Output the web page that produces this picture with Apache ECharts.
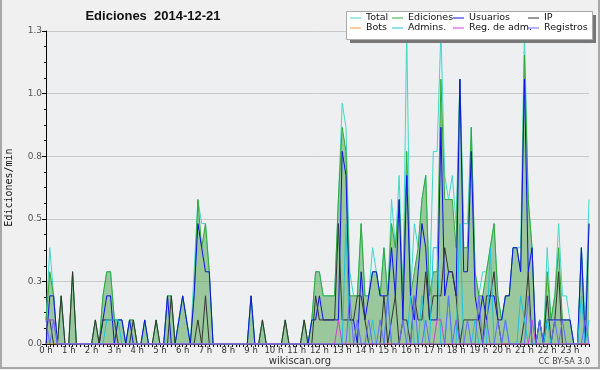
<!DOCTYPE html>
<html>
<head>
<meta charset="utf-8">
<script src="https://cdn.jsdelivr.net/npm/echarts@6/dist/echarts.min.js"></script>
<style>
  html, body { margin: 0; padding: 0; background: #f0f0f0; }
  #chart { width: 600px; height: 370px; }
</style>
</head>
<body>
<div id="chart"></div>
<script>
// etiquetas del eje x (una por hora, 6 tramos de 10 min por hora)
const hourLabels = ['0 h', '1 h', '2 h', '3 h', '4 h', '5 h', '6 h', '7 h', '8 h', '9 h', '10 h', '11 h',
  '12 h', '13 h', '14 h', '15 h', '16 h', '17 h', '18 h', '19 h', '20 h', '21 h', '22 h', '23 h']

// ediciones por minuto, tramos de 10 min (144 por día)
const total = [
  .1, .4, .2, 0, .2, 0, 0, .3, 0, 0, 0, 0,
  0, .1, 0, .2, .3, .3, .1, .1, .1, 0, .1, .1,
  0, 0, .1, 0, 0, .1, 0, 0, .2, .2, 0, .1,
  .2, .1, 0, .3, .6, .5, .5, .3, 0, 0, 0, 0,
  0, 0, 0, 0, 0, 0, .2, 0, 0, .1, 0, 0,
  0, 0, 0, .1, 0, 0, 0, 0, .1, 0, .1, .3,
  .3, .2, .2, .2, .2, .6, 1.0, .9, .3, .2, .2, .5,
  .2, .2, .4, .3, .2, .4, .2, .6, .4, .7, .2, 1.3,
  .2, .5, .4, .6, .7, .2, .8, .8, 1.3, .7, .6, .7,
  .5, 1.1, .5, .5, .9, .3, .2, .3, .3, .4, .5, .2,
  .1, .2, .2, .4, .4, .4, 1.3, .6, .4, 0, .1, 0,
  .4, .1, .2, .5, .2, .2, .1, 0, 0, .4, .1, .6
]
const ediciones = [
  .1, .3, .2, 0, .2, 0, 0, .3, 0, 0, 0, 0,
  0, .1, 0, .2, .3, .3, .1, .1, .1, 0, .1, .1,
  0, 0, .1, 0, 0, .1, 0, 0, .2, .2, 0, .1,
  .2, .1, 0, .2, .6, .4, .5, .3, 0, 0, 0, 0,
  0, 0, 0, 0, 0, 0, .2, 0, 0, .1, 0, 0,
  0, 0, 0, .1, 0, 0, 0, 0, .1, 0, .1, .3,
  .3, .2, .2, .2, .2, .6, .9, .8, .2, .2, .2, .5,
  .2, .2, .3, .3, .2, .4, .2, .5, .4, .6, .2, .8,
  .2, .3, .4, .6, .7, .2, .3, .3, 1.1, .6, .6, .6,
  .4, 1.1, .4, .4, .9, .3, .2, .2, .3, .4, .5, .2,
  .1, .2, .2, .4, .4, .3, 1.2, .6, .4, 0, .1, 0,
  .3, .1, .2, .4, .1, .1, .1, 0, 0, .4, 0, .5
]
const usuarios = [
  0, .2, .2, 0, 0, 0, 0, 0, 0, 0, 0, 0,
  0, 0, 0, .1, .2, .2, 0, .1, .1, 0, .1, 0,
  0, 0, .1, 0, 0, 0, 0, 0, .2, 0, 0, .1,
  .2, .1, 0, .2, .5, .4, .3, .3, 0, 0, 0, 0,
  0, 0, 0, 0, 0, 0, .2, 0, 0, 0, 0, 0,
  0, 0, 0, 0, 0, 0, 0, 0, 0, 0, .1, .1,
  .2, .1, .1, .1, .1, .1, .8, .7, .1, .1, 0, .3,
  .1, .2, .3, .3, .2, .2, .2, .4, .2, .6, .1, .7,
  .2, .1, .3, .5, .4, .1, .1, .1, .9, .2, .3, .3,
  .2, 1.1, .3, .3, .8, .2, .1, .2, .1, .2, .2, .1,
  .1, .2, .2, .4, .4, .3, 1.1, .3, .4, 0, .1, 0,
  .1, .1, .1, .1, .1, .1, .1, 0, 0, .4, 0, .5
]
const ip = [
  .1, .1, 0, 0, .2, 0, 0, .3, 0, 0, 0, 0,
  0, .1, 0, .1, .1, .1, .1, 0, 0, 0, 0, .1,
  0, 0, 0, 0, 0, .1, 0, 0, 0, .2, 0, 0,
  0, 0, 0, 0, .1, 0, .2, 0, 0, 0, 0, 0,
  0, 0, 0, 0, 0, 0, 0, 0, 0, .1, 0, 0,
  0, 0, 0, .1, 0, 0, 0, 0, .1, 0, 0, .2,
  .1, .1, .1, .1, .1, .5, .1, .1, .1, .1, .2, .2,
  .1, 0, 0, 0, 0, .2, 0, .1, .2, 0, .1, .1,
  0, .2, .1, .1, .3, .1, .2, .2, .2, .4, .3, .3,
  .2, 0, .1, .1, .1, .1, .1, 0, .2, .2, .3, .1,
  0, 0, 0, 0, 0, 0, .1, .3, 0, 0, 0, 0,
  .2, 0, .1, .3, 0, 0, 0, 0, 0, 0, 0, 0
]
// sin ediciones de bots ese día
const bots = [
  0, 0, 0, 0, 0, 0, 0, 0, 0, 0, 0, 0, 0, 0, 0, 0, 0, 0, 0, 0, 0, 0, 0, 0,
  0, 0, 0, 0, 0, 0, 0, 0, 0, 0, 0, 0, 0, 0, 0, 0, 0, 0, 0, 0, 0, 0, 0, 0,
  0, 0, 0, 0, 0, 0, 0, 0, 0, 0, 0, 0, 0, 0, 0, 0, 0, 0, 0, 0, 0, 0, 0, 0,
  0, 0, 0, 0, 0, 0, 0, 0, 0, 0, 0, 0, 0, 0, 0, 0, 0, 0, 0, 0, 0, 0, 0, 0,
  0, 0, 0, 0, 0, 0, 0, 0, 0, 0, 0, 0, 0, 0, 0, 0, 0, 0, 0, 0, 0, 0, 0, 0,
  0, 0, 0, 0, 0, 0, 0, 0, 0, 0, 0, 0, 0, 0, 0, 0, 0, 0, 0, 0, 0, 0, 0, 0
]
const admins = [
  .1, .1, .1, 0, 0, 0, 0, 0, 0, 0, 0, 0,
  0, 0, 0, 0, .1, .1, .1, .1, 0, 0, 0, 0,
  0, 0, 0, 0, 0, 0, 0, 0, 0, 0, 0, 0,
  0, 0, 0, 0, 0, 0, 0, 0, 0, 0, 0, 0,
  0, 0, 0, 0, 0, 0, 0, 0, 0, 0, 0, 0,
  0, 0, 0, 0, 0, 0, 0, 0, 0, 0, 0, 0,
  0, 0, 0, 0, 0, 0, 0, .5, 0, 0, 0, 0,
  0, 0, .1, 0, 0, 0, .2, 0, 0, 0, 0, 0,
  .2, 0, 0, .2, 0, 0, .4, .4, 0, 0, .2, 0,
  0, .5, 0, 0, 0, .1, 0, 0, 0, .4, 0, 0,
  0, .1, 0, 0, 0, .2, .1, 0, 0, 0, 0, 0,
  .1, 0, 0, 0, 0, 0, 0, 0, 0, .2, 0, .1
]
const regAdm = [
  .1, .1, .1, 0, 0, 0, 0, 0, 0, 0, 0, 0,
  0, 0, 0, 0, 0, 0, 0, 0, 0, 0, 0, 0,
  0, 0, 0, 0, 0, 0, 0, 0, 0, 0, 0, 0,
  0, 0, 0, 0, 0, 0, 0, 0, 0, 0, 0, 0,
  0, 0, 0, 0, 0, 0, 0, 0, 0, 0, 0, 0,
  0, 0, 0, 0, 0, 0, 0, 0, 0, 0, 0, 0,
  0, 0, 0, 0, 0, .1, 0, 0, 0, 0, 0, 0,
  0, 0, 0, 0, 0, 0, 0, 0, 0, 0, 0, 0,
  0, 0, 0, 0, 0, 0, 0, .1, .1, 0, 0, 0,
  0, 0, 0, 0, 0, 0, 0, 0, 0, 0, 0, 0,
  0, 0, 0, 0, 0, 0, 0, 0, .1, 0, 0, 0,
  0, 0, 0, 0, 0, 0, 0, 0, 0, 0, 0, 0
]
const registros = [
  .1, 0, .1, 0, 0, 0, 0, 0, 0, 0, 0, 0,
  0, 0, 0, 0, 0, 0, 0, 0, 0, 0, 0, 0,
  0, 0, 0, 0, 0, 0, 0, 0, 0, 0, 0, 0,
  0, 0, 0, 0, 0, 0, 0, 0, 0, 0, 0, 0,
  0, 0, 0, 0, 0, 0, 0, 0, 0, 0, 0, 0,
  0, 0, 0, 0, 0, 0, 0, 0, 0, 0, 0, 0,
  0, 0, 0, 0, 0, 0, 0, 0, .2, 0, .1, 0,
  0, .1, 0, 0, .1, 0, .2, 0, 0, 0, .1, 0,
  0, .2, 0, 0, .1, 0, 0, 0, 0, 0, .2, 0,
  .1, 0, 0, .1, 0, 0, .2, 0, .1, 0, 0, .1,
  0, .1, 0, 0, 0, 0, 0, .2, 0, 0, .1, 0,
  0, 0, .1, 0, .1, 0, 0, 0, 0, 0, .1, 0
]

// tramos de 10 minutos
const slots = []
for (let h = 0; h < 24; h++) {
  for (let m = 0; m < 6; m++) slots.push(h + ':' + m + '0')
}

const chart = echarts.init(document.getElementById('chart'))

function lineSeries(name, data, color, extra) {
  return Object.assign({
    name: name,
    type: 'line',
    data: data,
    symbol: 'none',
    animation: false,
    lineStyle: { width: 1, color: color },
    itemStyle: { color: color }
  }, extra || {})
}

const series = [
  lineSeries('Total', total, '#3fd8c8'),
  lineSeries('Ediciones', ediciones, '#35a835', {
    areaStyle: { color: 'rgba(70,160,70,0.5)', opacity: 1 }
  }),
  lineSeries('Usuarios', usuarios, '#1010e8'),
  lineSeries('IP', ip, '#333333'),
  lineSeries('Bots', bots, '#ff9933'),
  lineSeries('Admins.', admins, '#1cc4e0'),
  lineSeries('Reg. de adm.', regAdm, '#d040d0'),
  lineSeries('Registros', registros, '#6a6aff')
]

// leyenda en dos filas y cuatro columnas
const legendCols = [350, 392, 453, 528]
const legendRows = [13, 23]
const legendOrder = ['Total', 'Ediciones', 'Usuarios', 'IP', 'Bots', 'Admins.', 'Reg. de adm.', 'Registros']
const legends = legendOrder.map((name, i) => ({
  data: [name],
  left: legendCols[i % 4],
  top: legendRows[Math.floor(i / 4)],
  padding: 0,
  icon: 'rect',
  itemWidth: 11,
  itemHeight: 1,
  selectedMode: false,
  z: 12,
  textStyle: { fontFamily: 'DejaVu Sans', fontSize: 9.5, color: '#111' }
}))

const option = {
  backgroundColor: '#f0f0f0',
  animation: false,
  legend: legends,
  grid: {
    left: 46,
    right: 11,
    top: 31,
    bottom: 26,
    outerBoundsMode: 'none',
    containLabel: false,
    show: true,
    backgroundColor: '#eeeff1',
    borderWidth: 0
  },
  xAxis: {
    type: 'category',
    data: slots,
    boundaryGap: false,
    z: 3,
    axisLine: { lineStyle: { color: '#000', width: 1 } },
    axisTick: { interval: 0, length: 3, lineStyle: { color: '#000' } },
    axisLabel: {
      interval: (idx) => idx % 6 === 0,
      formatter: (v, idx) => hourLabels[idx / 6],
      margin: 2,
      fontFamily: 'DejaVu Sans',
      fontSize: 8.5,
      color: '#333'
    },
    splitLine: { show: false }
  },
  yAxis: {
    type: 'value',
    min: 0,
    max: 1.3,
    interval: 0.26,
    name: 'Ediciones/min',
    nameLocation: 'middle',
    nameGap: 32,
    nameRotate: 90,
    nameTextStyle: { fontFamily: 'DejaVu Sans Mono', fontSize: 10, color: '#111' },
    axisLine: { show: true, lineStyle: { color: '#000' } },
    axisTick: { show: true, length: 4, lineStyle: { color: '#000' } },
    minorTick: { show: true, splitNumber: 4, length: 2, lineStyle: { color: '#000' } },
    axisLabel: {
      formatter: (v) => v.toFixed(1),
      margin: 4,
      fontFamily: 'DejaVu Sans',
      fontSize: 9,
      color: '#555'
    },
    splitLine: { lineStyle: { color: '#c8c8c8' } }
  },
  graphic: [
    // marco
    {
      type: 'polyline', z: 20,
      shape: { points: [[1, 0], [1, 368], [599, 368], [599, 0]] },
      style: { stroke: '#a8a8a8', lineWidth: 2, fill: null }
    },
    // caja de la leyenda con sombra
    { type: 'rect', z: 10, shape: { x: 350, y: 15, width: 246, height: 28 }, style: { fill: '#777' } },
    { type: 'rect', z: 11, shape: { x: 346.5, y: 11.5, width: 246, height: 28 }, style: { fill: '#fff', stroke: '#aaa', lineWidth: 1 } },
    {
      type: 'text', z: 12, x: 153, y: 16,
      style: {
        text: 'Ediciones  2014-12-21', align: 'center', verticalAlign: 'middle',
        font: 'bold 13px "Liberation Sans"', fill: '#111'
      }
    },
    {
      type: 'text', z: 12, x: 300, y: 361,
      style: { text: 'wikiscan.org', align: 'center', verticalAlign: 'middle', font: '10px "DejaVu Sans"', fill: '#333' }
    },
    {
      type: 'text', z: 12, x: 590, y: 362,
      style: { text: 'CC BY-SA 3.0', align: 'right', verticalAlign: 'middle', font: '8px "DejaVu Sans"', fill: '#444' }
    }
  ],
  series: series
}

chart.setOption(option)
</script>
</body>
</html>
